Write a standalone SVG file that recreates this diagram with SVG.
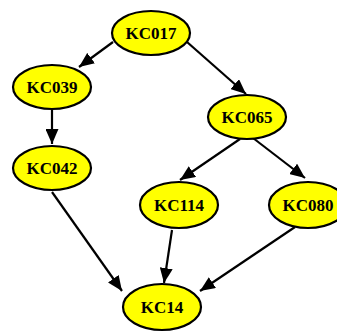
<svg xmlns="http://www.w3.org/2000/svg" width="337" height="332" viewBox="0 0 337 332">
<style>
.n ellipse{fill:#ffff00;stroke:#000;stroke-width:2.2}
.n text{font-family:"Liberation Serif",serif;font-weight:bold;font-size:17px;text-anchor:middle;fill:#000}
.e line{stroke:#000;stroke-width:2.2}
</style>
<defs>
<marker id="a" viewBox="0 0 15 13" refX="15" refY="6.5" markerWidth="15" markerHeight="13" markerUnits="userSpaceOnUse" orient="auto">
<path d="M0,0 L15,6.5 L0,13 z" fill="#000"/>
</marker>
</defs>
<rect width="337" height="332" fill="#fff"/>
<g class="e">
<line x1="113" y1="42" x2="79" y2="67" marker-end="url(#a)"/>
<line x1="187" y1="42" x2="246" y2="94" marker-end="url(#a)"/>
<line x1="52" y1="110" x2="52" y2="144" marker-end="url(#a)"/>
<line x1="240" y1="139" x2="180" y2="180" marker-end="url(#a)"/>
<line x1="253" y1="138" x2="305" y2="178" marker-end="url(#a)"/>
<line x1="172" y1="230" x2="164" y2="283" marker-end="url(#a)"/>
<line x1="52" y1="192" x2="122" y2="291" marker-end="url(#a)"/>
<line x1="295" y1="227" x2="200" y2="291" marker-end="url(#a)"/>
</g>
<g id="KC017" class="n"><ellipse cx="151" cy="33" rx="39" ry="22"/><text x="151" y="39">KC017</text></g>
<g id="KC039" class="n"><ellipse cx="52" cy="87" rx="39" ry="22"/><text x="52" y="93">KC039</text></g>
<g id="KC042" class="n"><ellipse cx="52" cy="168" rx="39" ry="22"/><text x="52" y="174">KC042</text></g>
<g id="KC065" class="n"><ellipse cx="247" cy="117" rx="39" ry="22"/><text x="247" y="123">KC065</text></g>
<g id="KC114" class="n"><ellipse cx="179" cy="205" rx="39" ry="23"/><text x="179" y="211">KC114</text></g>
<g id="KC080" class="n"><ellipse cx="308" cy="205" rx="39" ry="23"/><text x="308" y="211">KC080</text></g>
<g id="KC14" class="n"><ellipse cx="162" cy="307" rx="39" ry="23"/><text x="162" y="313">KC14</text></g>
</svg>
